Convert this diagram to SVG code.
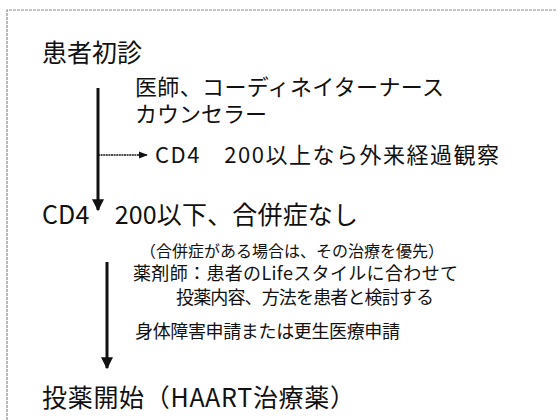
<svg xmlns="http://www.w3.org/2000/svg" width="557" height="420" viewBox="0 0 557 420">
<defs>
<style>
text{font-family:"Noto Sans CJK JP","Noto Sans CJK SC",sans-serif;fill:#111;}
.t1{font-size:25px;}
.t2{font-size:22px;}
.t3{font-size:16px;}
.t4{font-size:18px;}
.frame{fill:none;stroke:#8a8a8a;stroke-width:1.2;stroke-dasharray:3 1;}
.main{stroke:#111;stroke-width:3;fill:none;}
.branch{stroke:#111;stroke-width:1.5;fill:none;stroke-dasharray:2 0.6;}
</style>
<marker id="ah" viewBox="0 0 10 10" refX="9" refY="5" markerWidth="4" markerHeight="4" orient="auto" markerUnits="strokeWidth">
<path d="M0,0 L10,5 L0,10 z" fill="#111"/>
</marker>
<marker id="ah2" viewBox="0 0 10 10" refX="9" refY="5" markerWidth="6" markerHeight="6" orient="auto" markerUnits="strokeWidth">
<path d="M0,1 L10,5 L0,9 z" fill="#111"/>
</marker>
</defs>
<rect width="557" height="420" fill="#fff"/>
<path class="frame" d="M7,420 L7,10 L557,10"/>
<g id="connectors">
<line class="main" x1="98" y1="88" x2="98" y2="210" marker-end="url(#ah)"/>
<line class="branch" x1="98" y1="155" x2="147" y2="155" marker-end="url(#ah2)"/>
<line class="main" x1="107" y1="262" x2="107" y2="368" marker-end="url(#ah)"/>
</g>
<g id="n1"><text class="t1" x="42" y="62" font-size="24">患者初診</text></g>
<g id="n1-note">
<text class="t2" font-size="21.5"><tspan x="135" y="95" textLength="309" lengthAdjust="spacing">医師、コーディネイターナース</tspan><tspan x="135" y="122">カウンセラー</tspan></text>
</g>
<g id="n-branch"><text class="t2" x="155" y="163" font-size="23" textLength="344" lengthAdjust="spacing">CD4　200以上なら外来経過観察</text></g>
<g id="n2"><text class="t1" x="42" y="224" font-size="26" textLength="316" lengthAdjust="spacing">CD4　200以下、合併症なし</text></g>
<g id="n2-note">
<text class="t3" x="140" y="257">（合併症がある場合は、その治療を優先）</text>
<text class="t4" font-size="17.5"><tspan x="133" y="280" textLength="325" lengthAdjust="spacing">薬剤師：患者のLifeスタイルに合わせて</tspan><tspan x="176" y="304" textLength="258" lengthAdjust="spacing">投薬内容、方法を患者と検討する</tspan></text>
<text class="t4" x="135" y="338" textLength="265" lengthAdjust="spacing">身体障害申請または更生医療申請</text>
</g>
<g id="n3"><text class="t1" x="42" y="407" font-size="26" textLength="313" lengthAdjust="spacing">投薬開始（HAART治療薬）</text></g>
</svg>
